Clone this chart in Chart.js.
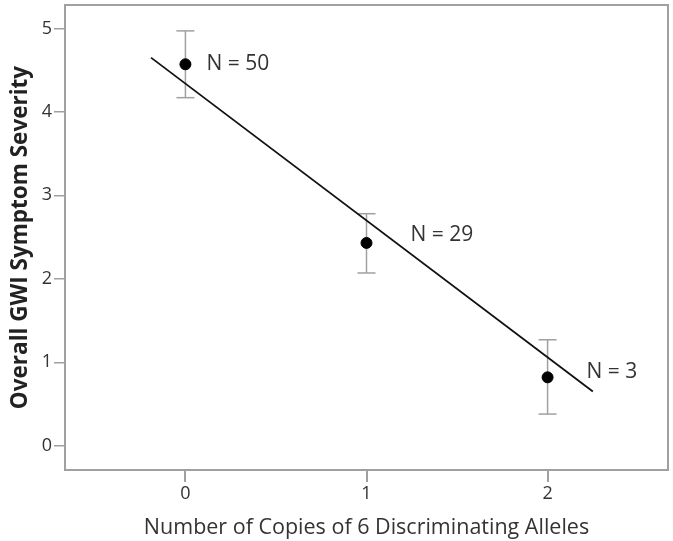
<!DOCTYPE html>
<html>
<head>
<meta charset="utf-8">
<script src="https://cdn.jsdelivr.net/npm/chart.js@4.4.1/dist/chart.umd.min.js"></script>
<style>
  html, body { margin: 0; padding: 0; background: #fff; }
  #wrap { width: 673px; height: 541px; }
</style>
</head>
<body>
<div id="wrap"><canvas id="chart" width="673" height="541"></canvas></div>
<script>
const copies = [0, 1, 2];
const meanSeverity = [4.57, 2.43, 0.82];
const errLow = [4.17, 2.07, 0.38];
const errHigh = [4.97, 2.78, 1.27];
const groupLabels = ['N = 50', 'N = 29', 'N = 3'];
const labelX = [0.116, 1.243, 2.215];
const labelY = [4.57, 2.52, 0.885];
const fitX = [-0.19, 2.25];
const fitY = [4.65, 0.65];
const xTicks = [0, 1, 2];
const yTicks = [0, 1, 2, 3, 4, 5];

const FONT = "'Open Sans', 'DejaVu Sans', sans-serif";
const TEXT = '#333333';
const AXIS = '#a0a0a0';

// box around the plot area + "N = .." labels
const framePlugin = {
    id: 'frame',
    beforeDatasetsDraw(chart) {
        const a = chart.chartArea;
        const ctx = chart.ctx;
        ctx.save();
        ctx.strokeStyle = AXIS;
        ctx.lineWidth = 2;
        ctx.strokeRect(a.left, a.top, a.right - a.left, a.bottom - a.top);
        ctx.restore();
    },
    afterDatasetsDraw(chart) {
        const ctx = chart.ctx;
        const xs = chart.scales.x, ys = chart.scales.y;
        ctx.save();
        ctx.font = '21px ' + FONT;
        ctx.fillStyle = TEXT;
        ctx.textBaseline = 'middle';
        ctx.textAlign = 'left';
        groupLabels.forEach(function (t, i) {
            ctx.fillText(t, xs.getPixelForValue(labelX[i]), ys.getPixelForValue(labelY[i]));
        });
        ctx.restore();
    }
};

const errorSets = copies.map(function (x, i) {
    return {
        type: 'line',
        data: [{ x: x, y: errLow[i] }, { x: x, y: errHigh[i] }],
        borderColor: AXIS,
        borderWidth: 1.5,
        pointStyle: 'line',
        pointRadius: 9,
        pointBorderColor: AXIS,
        pointBorderWidth: 1.5,
        order: 3
    };
});

new Chart(document.getElementById('chart').getContext('2d'), {
    type: 'scatter',
    data: {
        datasets: [
            {
                type: 'line',
                data: fitX.map(function (x, i) { return { x: x, y: fitY[i] }; }),
                borderColor: '#111',
                borderWidth: 1.8,
                pointRadius: 0,
                order: 2
            },
            ...errorSets,
            {
                data: copies.map(function (x, i) { return { x: x, y: meanSeverity[i] }; }),
                backgroundColor: '#000',
                borderColor: '#000',
                pointRadius: 5.5,
                order: 1
            }
        ]
    },
    options: {
        responsive: false,
        animation: false,
        layout: { autoPadding: false, padding: { top: 5, right: 5, left: 0, bottom: 0 } },
        plugins: { legend: { display: false }, tooltip: { enabled: false } },
        scales: {
            x: {
                type: 'linear',
                min: -0.665,
                max: 2.665,
                afterBuildTicks: function (s) { s.ticks = xTicks.map(function (v) { return { value: v }; }); },
                afterFit: function (s) { s.height = 71; s.paddingLeft = 0; s.paddingRight = 0; },
                grid: { drawOnChartArea: false, drawTicks: true, tickLength: 12, color: AXIS, lineWidth: 2 },
                border: { display: false },
                ticks: { color: TEXT, font: { family: FONT, size: 18 }, padding: 1 },
                title: { display: true, text: 'Number of Copies of 6 Discriminating Alleles', color: TEXT, font: { family: FONT, size: 21.5 }, padding: { top: 4, bottom: 0 } }
            },
            y: {
                min: -0.29,
                max: 5.28,
                afterBuildTicks: function (s) { s.ticks = yTicks.map(function (v) { return { value: v }; }); },
                afterFit: function (s) { s.width = 65; s.paddingTop = 0; s.paddingBottom = 0; },
                grid: { drawOnChartArea: false, drawTicks: true, tickLength: 11, color: AXIS, lineWidth: 1.5 },
                border: { display: false },
                ticks: { color: TEXT, font: { family: FONT, size: 18 }, padding: 2 },
                title: { display: true, text: 'Overall GWI Symptom Severity', color: '#222', font: { family: FONT, size: 22.5, weight: 'bold' }, padding: { top: 7, bottom: 4 } }
            }
        }
    },
    plugins: [framePlugin]
});
</script>
</body>
</html>
